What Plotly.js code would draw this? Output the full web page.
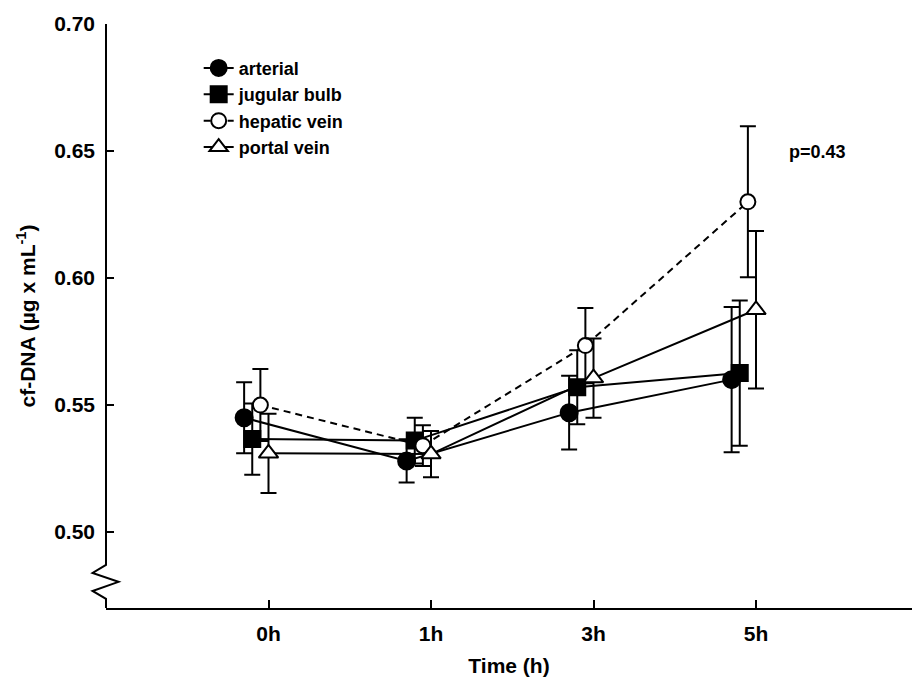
<!DOCTYPE html>
<html>
<head>
<meta charset="utf-8">
<script src="https://cdn.plot.ly/plotly-3.0.1.min.js"></script>
<style>html,body{margin:0;padding:0;background:#fff;}#chart{width:914px;height:681px;}</style>
</head>
<body>
<div id="chart"></div>
<script>
var timeLabels = ['0h', '1h', '3h', '5h'];
var seriesNames = ['arterial', 'jugular bulb', 'hepatic vein', 'portal vein'];

var arterial = [0.545, 0.528, 0.547, 0.560];
var arterialErr = [0.014, 0.0085, 0.0145, 0.0286];
var jugular = [0.5366, 0.536, 0.557, 0.5626];
var jugularErr = [0.014, 0.009, 0.0146, 0.0286];
var hepatic = [0.550, 0.534, 0.5734, 0.630];
var hepaticErr = [0.0142, 0.008, 0.0148, 0.0297];
var portal = [0.531, 0.5307, 0.5606, 0.5875];
var portalErr = [0.0156, 0.0091, 0.0156, 0.031];

var yTicks = [0.50, 0.55, 0.60, 0.65, 0.70];
var pLabel = 'p=0.43';

var values = [arterial, jugular, hepatic, portal];
var errors = [arterialErr, jugularErr, hepaticErr, portalErr];
var offsets = [-0.15, -0.1, -0.05, 0];
var symbols = ['circle', 'square', 'circle', 'triangle-up'];
var fills = ['#000', '#000', '#fff', '#fff'];
var sizes = [17, 16, 15, 17];
var dashes = ['solid', 'solid', '7px,5px', 'solid'];

var FONT = 'Liberation Sans, Arial, Helvetica, sans-serif';
var idx = timeLabels.map(function (_, i) { return i; });

var traces = values.map(function (v, s) {
  return {
    type: 'scatter',
    mode: 'lines+markers',
    name: seriesNames[s],
    x: idx.map(function (i) { return i + offsets[s]; }),
    y: v,
    line: {color: '#000', width: 2, dash: dashes[s]},
    marker: {
      symbol: symbols[s], size: sizes[s], color: fills[s],
      line: {color: '#000', width: 2}
    },
    error_y: {type: 'data', array: errors[s], visible: true, color: '#000', thickness: 2, width: 8},
    cliponaxis: false
  };
});

var yTop = 0.70, yBot = 0.4701;
var layout = {
  width: 914, height: 681,
  margin: {l: 106, r: 2, t: 24, b: 73},
  paper_bgcolor: '#fff', plot_bgcolor: '#fff',
  font: {family: FONT, color: '#000'},
  showlegend: true,
  legend: {
    x: 0.115, y: 0.956, xanchor: 'left', yanchor: 'top',
    bgcolor: 'rgba(0,0,0,0)', borderwidth: 0,
    font: {family: FONT, size: 18, weight: 'bold', color: '#000'},
    itemwidth: 30, tracegroupgap: 0
  },
  xaxis: {
    range: [-1, 3.96],
    tickvals: idx, ticktext: timeLabels,
    showgrid: false, zeroline: false,
    showline: true, linecolor: '#000', linewidth: 2,
    ticks: 'inside', ticklen: 8, tickwidth: 2, tickcolor: '#000',
    ticklabelstandoff: 6,
    tickfont: {family: FONT, size: 21, weight: 'bold', color: '#000'},
    title: {text: 'Time (h)', standoff: 14, font: {family: FONT, size: 21, weight: 'bold', color: '#000'}}
  },
  yaxis: {
    range: [yBot, yTop],
    tickvals: yTicks, tickformat: '.2f',
    showgrid: false, zeroline: false, showline: false,
    ticks: 'inside', ticklen: 8, tickwidth: 2, tickcolor: '#000',
    ticklabelstandoff: 10,
    tickfont: {family: FONT, size: 21, weight: 'bold', color: '#000'},
    title: {text: 'cf-DNA (µg x mL<sup>-1</sup>)', standoff: 12, font: {family: FONT, size: 21, weight: 'bold', color: '#000'}}
  },
  shapes: [{
    type: 'path', xref: 'paper', yref: 'y', layer: 'above',
    path: 'M 0,' + yTop + ' L 0,0.4871 L -0.0167,0.4839 L 0.0155,0.4804 L -0.0167,0.4768 L 0,0.4737 L 0,' + yBot,
    line: {color: '#000', width: 2}
  }],
  annotations: [{
    text: pLabel, xref: 'paper', yref: 'y', x: 0.883, y: 0.6497,
    showarrow: false, xanchor: 'center', yanchor: 'middle',
    font: {family: FONT, size: 18, weight: 'bold', color: '#000'}
  }]
};

Plotly.newPlot('chart', traces, layout, {displayModeBar: false, staticPlot: true});
</script>
</body>
</html>
